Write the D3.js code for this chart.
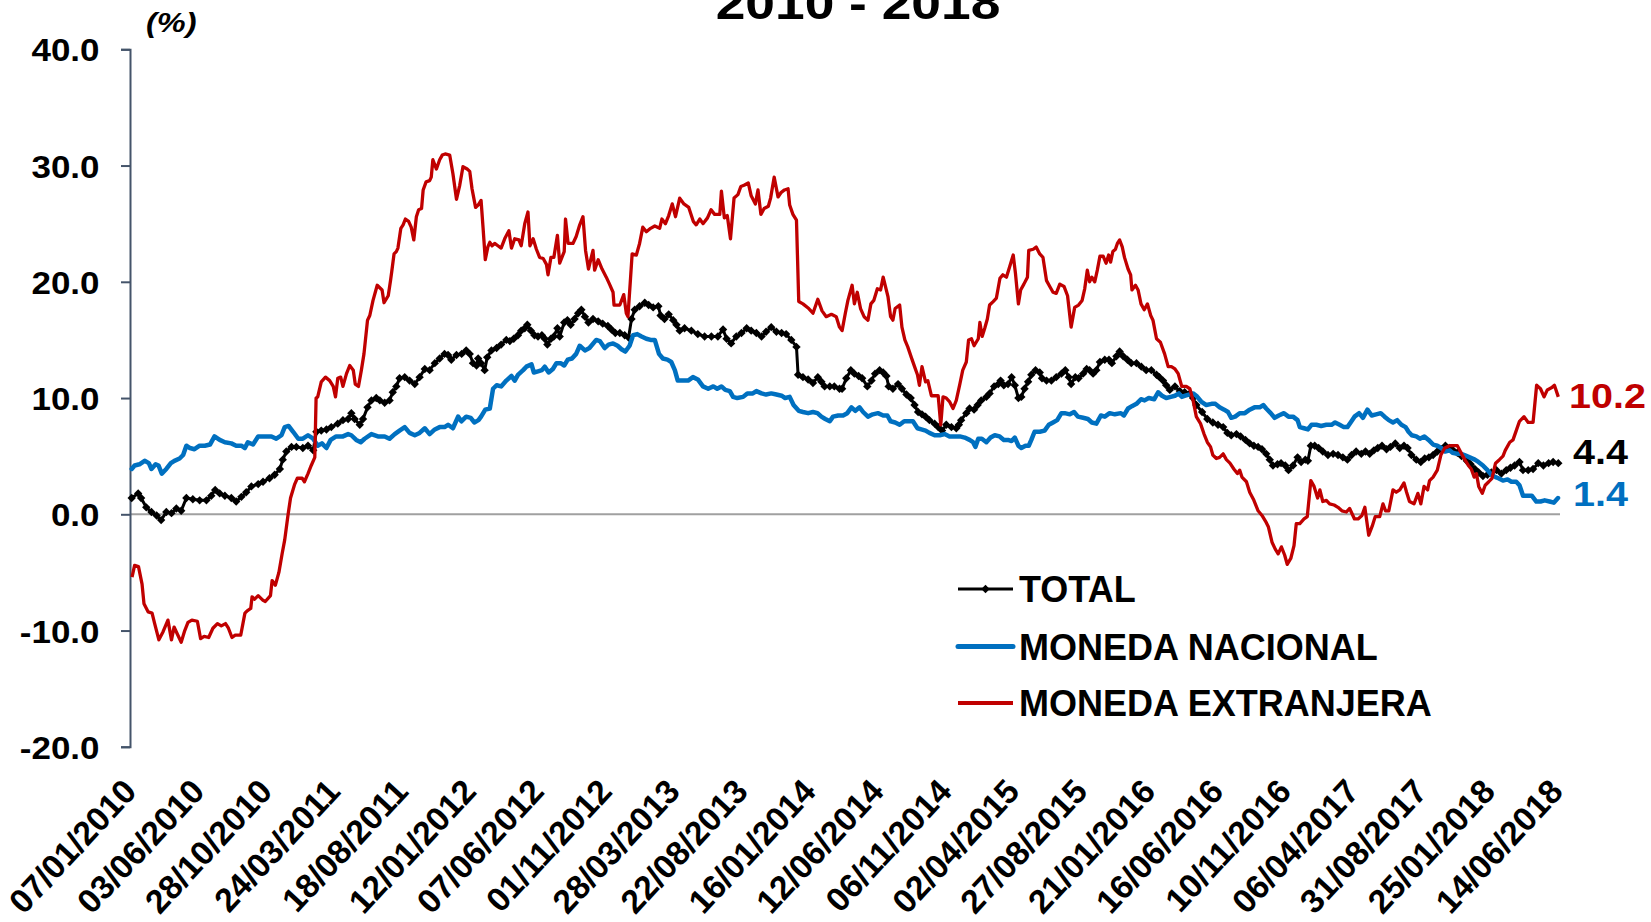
<!DOCTYPE html>
<html><head><meta charset="utf-8"><title>chart</title>
<script src="https://cdn.jsdelivr.net/npm/d3@7/dist/d3.min.js"></script>
<style>
html,body{margin:0;padding:0;background:#fff;overflow:hidden;}
svg{display:block;}
text{font-family:"Liberation Sans",Arial,Helvetica,sans-serif;font-weight:bold;}
</style></head><body>
<svg id="chart" width="1651" height="922"></svg>
<script>
const titleText = "2010 - 2018";
const unitText = "(%)";
const seriesNames = ["TOTAL", "MONEDA NACIONAL", "MONEDA EXTRANJERA"];
const seriesColors = ["#000000", "#0070C0", "#C00000"];
const lastValueLabels = ["4.4", "1.4", "10.2"];
const yTickValues = [-20, -10, 0, 10, 20, 30, 40];
const xTickIndex = [0,21,42,63,84,105,126,147,168,189,210,231,252,273,294,315,336,357,378,399,420,441];
const xTickLabels = ["07/01/2010","03/06/2010","28/10/2010","24/03/2011","18/08/2011","12/01/2012","07/06/2012","01/11/2012","28/03/2013","22/08/2013","16/01/2014","12/06/2014","06/11/2014","02/04/2015","27/08/2015","21/01/2016","16/06/2016","10/11/2016","06/04/2017","31/08/2017","25/01/2018","14/06/2018"];

// TOTAL (weekly observation index, %)
const totalWeeks = [0.0,2.0,2.9,4.5,6.1,7.7,9.1,10.7,12.3,13.8,15.3,16.9,18.9,21.0,23.1,24.6,25.8,27.2,28.8,30.8,32.3,33.9,35.4,37.0,39.1,40.6,42.6,44.2,45.8,46.7,47.8,49.4,50.9,52.9,54.5,56.1,57.1,58.6,60.2,61.7,63.7,65.3,66.9,67.9,68.9,70.5,71.5,72.9,74.1,75.6,76.7,78.2,79.7,80.7,81.8,82.8,84.4,85.9,87.5,89.0,90.6,92.1,93.7,95.2,96.7,97.8,98.8,100.4,102.0,103.4,104.5,105.5,106.6,
107.1,108.0,109.1,109.9,111.2,112.8,114.2,115.8,116.9,118.1,119.4,120.4,121.5,122.3,123.4,124.5,125.6,126.8,127.7,128.5,129.6,130.5,131.6,132.3,133.7,134.7,135.7,136.9,138.0,139.0,140.1,141.2,142.6,144.2,145.6,147.2,148.3,149.5,150.9,152.4,153.6,154.5,155.5,157.0,158.6,159.8,161.2,162.8,163.5,164.7,166.0,167.4,168.4,169.4,170.9,173.0,175.0,177.1,179.2,181.2,182.8,183.9,185.3,186.9,188.5,190.1,191.5,193.1,194.7,196.1,197.7,199.3,200.9,202.3,203.9,205.5,206.0,207.5,209.1,210.6,212.1,213.2,214.2,215.8,217.2,218.8,
219.6,220.9,222.3,223.4,224.7,225.8,227.4,228.7,229.8,231.2,232.3,233.3,234.0,235.3,236.9,238.1,239.5,240.8,242.0,243.1,244.3,245.4,246.6,248.2,249.3,250.5,251.8,253.4,254.9,255.7,256.4,258.0,259.0,260.4,261.5,262.6,264.2,265.2,266.6,267.9,268.6,269.6,270.9,272.0,273.0,274.1,275.0,276.0,277.1,278.1,279.4,280.7,281.4,282.8,284.3,285.8,287.4,288.6,289.7,290.4,291.7,292.7,294.1,295.2,296.1,297.2,298.2,299.3,300.8,302.1,303.0,304.4,305.4,306.5,307.8,309.0,310.6,312.1,313.6,315.2,316.8,317.7,318.8,319.8,320.9,322.5,324.0,325.5,327.1,328.1,329.1,
330.9,332.5,334.2,335.8,337.4,338.7,339.9,341.5,342.8,344.3,345.6,346.9,348.2,349.4,350.7,351.8,352.8,354.2,355.3,356.6,357.6,359.0,360.4,361.5,362.8,363.6,364.5,365.7,366.9,368.2,369.8,371.4,372.9,374.4,375.8,377.1,378.5,380.1,381.4,382.7,384.0,385.2,386.5,387.9,389.1,390.6,392.0,393.3,394.4,395.6,397.1,398.5,399.7,401.0,402.3,403.6,404.9,406.1,407.4,408.5,409.8,411.1,412.7,413.9,415.2,416.4,417.7,419.1,420.3,421.9,423.4,424.9,426.2,427.5,429.0,430.1,431.7,433.2,434.8,436.4,438.0,439.4,441.0];
const totalValues = [1.4,1.8,1.4,0.6,0.2,-0.1,-0.5,0.2,0.1,0.5,0.3,1.4,1.3,1.2,1.2,1.6,2.1,1.8,1.6,1.4,1.1,1.5,1.9,2.4,2.6,2.8,3.1,3.4,3.9,4.7,5.4,5.8,5.8,5.7,5.9,5.5,7.1,7.2,7.3,7.5,7.8,8.1,8.2,8.7,8.2,7.7,8.2,9.2,9.8,10.0,9.8,9.6,9.8,10.5,11.0,11.7,11.8,11.5,11.2,11.8,12.5,12.4,13.0,13.4,13.8,13.7,13.3,13.7,13.8,14.1,13.8,13.0,12.8,
13.4,13.0,12.4,13.5,14.1,14.3,14.6,15.0,14.9,15.1,15.4,15.8,16.0,16.3,15.8,15.4,15.3,15.4,15.1,14.6,15.1,15.3,16.0,15.3,16.5,16.7,16.3,16.8,17.3,17.6,17.0,16.5,16.8,16.6,16.4,16.2,15.9,15.6,15.6,15.4,15.2,16.8,17.6,17.9,18.2,18.0,17.8,17.9,17.1,16.8,17.2,16.7,16.3,15.8,16.0,15.8,15.5,15.3,15.3,15.3,15.9,15.1,14.7,15.3,15.6,16.0,15.8,15.6,15.3,15.7,16.1,15.7,15.6,15.5,15.0,14.4,12.0,11.8,11.6,11.3,11.8,11.4,11.0,11.0,11.0,10.8,
10.8,11.7,12.4,12.1,11.9,11.7,11.0,11.5,12.1,12.4,12.2,11.9,11.0,10.8,11.2,10.8,10.3,10.0,9.4,8.8,8.6,8.4,8.1,7.8,7.5,7.2,7.7,7.5,7.4,7.7,8.1,8.7,9.1,9.0,9.4,9.8,10.1,10.4,11.0,11.2,11.5,11.1,11.2,11.8,11.1,10.0,10.1,10.8,11.4,12.0,12.4,12.2,11.7,11.5,11.5,11.8,12.1,12.4,11.8,11.2,11.8,11.7,12.1,12.5,12.4,12.1,12.4,13.1,13.3,13.3,13.0,13.6,14.0,13.6,13.3,13.0,13.0,12.7,12.4,12.4,12.0,11.8,11.5,11.1,10.7,11.0,10.6,10.5,10.4,10.0,9.4,
8.8,8.2,7.9,7.7,7.5,7.0,6.8,6.9,6.7,6.4,6.1,5.9,5.8,5.6,5.2,4.7,4.2,4.3,4.4,4.2,3.8,4.2,4.9,4.5,4.7,4.6,5.9,5.9,5.7,5.4,5.1,5.2,5.1,4.9,4.7,5.1,5.4,5.2,5.4,5.2,5.5,5.7,5.9,5.6,5.8,6.1,5.7,5.9,5.7,5.1,4.7,4.5,4.8,4.9,5.1,5.4,5.6,5.9,5.7,5.5,5.3,5.0,4.6,4.3,3.9,3.6,3.3,3.4,3.6,3.8,3.5,3.8,4.0,4.2,4.5,3.8,3.8,3.9,4.4,4.2,4.4,4.5,4.4];

// MONEDA NACIONAL
const nacionalWeeks = [0.0,0.9,2.4,4.0,5.3,6.1,7.4,8.3,9.3,10.7,12.1,13.2,14.8,15.9,16.9,18.0,19.4,21.0,22.6,24.2,25.6,27.2,28.8,30.8,32.3,33.9,35.0,35.9,37.5,39.1,41.1,43.2,44.7,46.3,47.3,48.5,49.9,51.5,52.9,54.5,56.1,57.5,58.8,60.2,61.5,63.2,65.3,66.9,67.9,69.4,70.8,72.0,74.1,76.1,78.2,79.7,81.3,82.8,84.4,85.9,87.5,89.0,90.6,92.1,93.7,95.2,96.7,97.8,99.3,100.9,101.9,103.4,104.8,105.9,107.2,
108.0,109.3,110.7,111.7,112.8,114.2,115.8,117.4,118.4,119.4,121.0,122.0,123.6,124.3,125.6,126.8,127.7,128.9,130.2,131.3,132.6,133.7,134.8,136.1,137.4,138.5,140.1,141.5,143.6,144.7,146.2,147.4,148.8,150.2,151.4,152.6,153.9,155.0,156.3,157.6,159.1,160.4,161.7,163.0,164.2,165.6,166.8,167.9,168.8,170.4,172.0,173.5,175.0,176.6,178.2,179.8,181.0,182.3,183.5,184.9,185.9,187.2,189.0,190.3,192.0,193.1,194.7,196.1,197.7,199.3,200.9,202.0,203.4,204.6,206.2,207.5,209.1,210.6,212.0,213.2,214.4,215.8,216.8,218.4,
219.9,221.2,222.5,223.7,225.0,226.1,227.6,229.1,230.7,232.3,233.6,234.6,236.0,237.4,238.8,240.2,241.5,242.9,244.1,245.4,246.6,248.2,249.8,251.3,252.8,254.4,256.0,257.5,259.0,260.1,260.8,261.7,262.8,264.2,265.5,266.8,268.3,269.6,270.9,272.0,273.0,274.1,275.0,276.3,277.3,278.1,279.1,280.7,282.2,283.5,284.8,286.1,287.4,288.4,290.0,291.3,292.5,294.1,295.6,296.8,298.2,299.6,300.8,302.3,303.9,305.8,306.7,308.0,309.2,310.6,312.0,313.1,314.4,316.1,317.3,318.5,319.8,321.2,322.5,323.7,324.6,325.7,326.8,328.1,329.1,
330.6,332.2,333.8,335.0,336.3,337.7,338.9,339.9,341.1,342.5,344.1,345.6,347.1,348.7,349.8,350.7,352.1,353.3,354.6,356.2,357.6,359.0,360.4,361.1,362.4,363.6,364.7,366.2,367.7,369.3,370.9,372.0,373.4,374.7,375.8,376.8,378.0,379.4,380.6,382.0,383.3,384.7,386.1,387.3,388.6,389.9,391.2,392.5,393.8,394.7,395.7,397.1,398.2,399.6,400.9,402.3,403.6,404.8,406.0,407.4,408.3,409.8,411.0,412.0,413.6,415.2,416.3,417.7,419.1,420.3,421.6,422.5,423.9,425.3,426.5,428.0,429.0,430.1,431.7,432.8,434.2,435.5,436.8,438.3,439.6,440.9];
const nacionalValues = [3.9,4.2,4.3,4.6,4.4,3.9,4.3,4.2,3.5,3.9,4.4,4.6,4.8,5.1,5.9,5.7,5.6,5.9,5.9,6.0,6.7,6.4,6.2,6.1,5.9,5.9,5.7,6.2,6.0,6.7,6.7,6.7,6.5,6.8,7.5,7.6,7.1,6.5,6.5,6.8,6.5,5.9,6.1,5.7,6.4,6.7,6.7,6.9,6.8,6.4,6.2,6.5,6.9,6.7,6.7,6.5,6.9,7.2,7.5,7.0,6.8,7.0,7.4,6.9,7.3,7.5,7.5,7.7,7.4,8.4,8.0,8.4,8.3,7.9,8.1,
8.4,9.0,9.1,10.8,11.1,11.0,11.5,11.9,11.5,12.0,12.4,12.7,12.9,12.2,12.3,12.4,12.7,12.2,12.5,13.0,13.0,12.8,13.3,13.4,13.8,14.5,14.1,14.3,15.0,14.9,14.3,14.6,14.7,14.5,14.2,14.0,14.5,15.4,15.5,15.3,15.1,15.0,15.0,13.8,13.4,13.3,13.1,12.4,11.5,11.5,11.5,11.8,11.6,11.0,10.8,11.0,10.8,11.0,10.7,10.6,10.1,10.0,10.1,10.4,10.4,10.6,10.4,10.3,10.4,10.3,10.2,10.0,10.1,9.4,8.9,8.8,8.7,8.8,8.7,8.4,8.2,8.0,8.4,8.5,
8.5,8.7,9.2,8.9,9.2,8.8,8.4,8.6,8.7,8.5,8.5,8.0,7.9,7.7,8.0,8.0,8.0,7.4,7.3,7.2,7.0,6.8,6.8,6.9,6.7,6.7,6.7,6.6,6.4,6.2,5.8,6.5,6.5,6.2,6.6,6.8,6.7,6.4,6.4,6.3,6.6,5.9,5.7,5.9,5.9,6.4,7.1,7.1,7.2,7.7,7.9,8.1,8.7,8.7,8.6,8.8,8.4,8.3,8.2,7.9,7.8,8.5,8.4,8.7,8.6,8.7,8.5,9.1,9.3,9.5,9.9,9.8,10.0,9.9,10.5,10.2,10.0,10.1,10.2,10.4,10.1,10.2,10.3,10.4,10.2,
9.7,9.4,9.5,9.5,9.2,9.0,8.8,8.3,8.4,8.7,8.7,9.0,9.2,9.2,9.4,9.1,8.7,8.3,8.5,8.7,8.4,8.4,8.1,7.5,7.4,7.3,7.7,7.7,7.6,7.7,7.7,7.9,7.7,7.5,7.5,7.9,8.4,8.7,8.3,9.0,8.5,8.6,8.7,8.4,8.1,7.9,8.1,7.7,7.5,7.1,6.8,6.7,6.5,6.7,6.4,6.0,5.9,5.7,5.4,5.5,5.3,5.2,5.2,5.1,4.9,4.7,4.5,4.2,3.8,3.4,3.2,3.1,2.9,3.0,2.8,2.8,2.5,1.6,1.6,1.6,1.1,1.1,1.2,1.1,1.0,1.4];

// MONEDA EXTRANJERA
const extranjeraWeeks = [0.1,0.9,2.1,3.2,3.8,5.1,6.3,7.1,8.4,9.7,11.2,12.3,13.1,14.1,15.3,16.4,17.4,18.6,20.3,21.3,22.4,23.8,25.1,26.5,27.7,29.0,29.9,31.0,32.0,33.7,35.0,35.7,36.8,37.2,38.0,39.1,40.6,41.3,42.9,43.4,44.4,45.5,46.5,47.3,48.3,49.1,50.4,51.2,52.7,53.4,54.5,55.5,56.6,57.0,57.5,58.6,59.9,61.2,62.3,63.0,63.7,64.6,65.3,66.4,67.4,68.5,69.1,70.1,71.0,71.8,72.9,73.6,74.6,75.9,77.4,78.0,79.3,80.0,80.4,81.1,81.8,82.3,83.2,83.9,84.6,85.6,86.4,87.2,88.0,88.7,89.6,90.1,91.0,92.1,92.6,93.1,94.2,95.2,96.0,96.9,98.3,99.3,100.4,101.4,102.4,103.7,104.5,105.2,106.3,
107.1,108.0,108.6,109.3,110.1,110.7,111.4,112.2,113.2,114.2,115.3,116.6,117.4,118.4,119.7,120.4,121.5,122.5,123.1,124.1,125.1,126.1,127.2,128.2,128.7,129.6,130.5,131.6,132.3,133.7,134.1,134.9,136.4,137.4,138.5,139.5,140.3,141.2,142.6,143.1,144.2,145.4,146.7,147.7,148.8,149.1,150.9,152.1,152.9,153.4,154.2,154.7,156.0,157.0,158.0,159.1,160.4,161.7,163.2,163.9,165.0,166.0,167.1,168.1,169.4,170.7,172.2,173.6,174.5,175.6,176.6,178.0,179.1,180.2,181.8,182.3,183.2,184.1,185.1,186.2,187.4,188.3,189.3,190.6,191.5,192.8,193.6,194.5,195.5,196.8,197.5,198.6,199.8,200.8,201.8,202.9,203.4,204.4,205.5,206.2,207.5,209.3,210.6,212.1,213.4,214.7,216.3,217.8,218.8,
219.6,220.6,221.4,222.7,223.4,224.3,225.3,226.4,227.6,228.5,229.4,230.5,231.5,232.3,233.0,233.8,234.6,235.3,236.0,237.4,238.1,239.0,239.9,241.0,242.0,242.9,243.5,244.3,245.4,246.1,247.2,248.2,249.3,250.1,250.8,251.8,252.8,253.9,254.9,256.0,256.9,258.0,258.7,259.6,260.4,261.7,262.2,262.9,263.7,264.5,265.2,266.3,267.3,268.4,269.3,270.4,271.4,272.5,273.2,274.1,274.8,275.8,276.9,277.3,278.7,279.6,280.7,281.7,282.8,283.8,284.8,285.8,286.9,288.2,289.3,290.4,291.5,292.7,293.8,294.6,295.4,296.1,296.8,297.7,298.5,299.3,300.3,301.2,302.0,302.6,303.3,304.1,304.7,305.4,306.2,306.9,308.0,308.8,309.2,310.3,311.1,312.0,313.0,314.0,315.0,315.7,316.8,318.0,319.3,320.4,321.4,322.5,323.5,324.6,326.0,327.1,328.1,329.1,
330.4,331.5,332.5,333.5,334.2,335.3,336.3,337.4,338.4,339.5,340.7,341.8,342.5,343.2,344.6,345.6,346.9,348.2,349.4,350.7,351.4,352.5,353.5,354.4,355.4,356.4,357.2,358.3,359.3,360.0,361.1,362.4,363.4,364.5,365.5,366.6,367.3,368.2,369.3,370.3,371.7,372.9,374.1,375.5,376.5,378.0,379.1,380.3,381.2,382.4,383.5,384.4,385.8,386.8,387.6,388.6,389.9,390.9,392.0,393.3,394.1,395.0,396.4,397.6,398.5,399.5,400.6,401.2,402.3,403.6,404.7,405.9,407.4,408.5,409.8,411.1,412.1,413.2,414.1,415.0,415.7,416.4,417.5,418.4,419.5,420.5,421.6,422.8,423.9,424.6,426.0,427.0,428.0,429.0,430.4,431.7,433.2,434.3,435.5,436.6,437.6,439.0,439.8,441.0];
const extranjeraValues = [-5.4,-4.4,-4.5,-6.0,-7.7,-8.4,-8.5,-9.4,-10.8,-10.1,-9.1,-10.8,-9.7,-10.3,-11.0,-10.0,-9.3,-9.1,-9.2,-10.7,-10.5,-10.6,-9.8,-9.4,-9.6,-9.4,-9.8,-10.6,-10.4,-10.4,-8.5,-8.3,-8.1,-7.1,-7.3,-7.0,-7.4,-7.5,-7.0,-5.7,-6.1,-5.0,-3.4,-2.2,-0.1,1.4,2.6,3.1,3.1,2.8,3.5,4.2,4.9,10.0,10.1,11.4,11.8,11.5,11.0,10.1,11.7,11.8,11.0,12.1,12.8,12.4,11.2,11.0,12.4,13.8,16.7,17.1,18.4,19.7,19.3,18.2,18.8,20.1,20.9,22.4,22.6,22.9,24.6,24.9,25.4,25.2,24.7,23.6,25.6,26.2,26.3,27.9,28.6,28.7,29.0,30.5,29.7,30.5,30.9,31.0,30.9,29.3,27.1,28.3,29.9,29.7,29.5,28.0,26.4,
26.6,27.0,24.7,21.9,23.0,23.4,23.1,23.3,23.1,22.9,23.7,24.4,22.9,23.7,23.6,23.1,25.0,26.0,23.1,23.7,22.8,22.1,22.0,21.5,20.6,22.1,22.1,24.0,21.6,22.6,25.4,23.3,23.3,23.9,24.9,25.6,22.7,21.1,22.7,21.0,21.9,21.1,20.4,19.8,19.1,18.0,18.0,18.9,17.3,17.0,20.3,22.4,22.3,23.3,24.7,24.3,24.6,24.8,24.6,25.4,25.0,25.7,26.7,25.6,27.2,26.7,26.4,25.2,24.9,25.4,25.0,25.5,26.2,25.8,25.8,27.8,25.5,25.7,23.7,27.2,27.5,28.2,28.3,28.5,27.4,26.7,27.9,25.8,26.3,26.5,27.2,29.0,27.3,27.7,27.9,28.0,26.6,25.8,25.3,18.3,18.1,17.7,17.3,18.5,17.5,17.0,17.2,17.0,16.1,
15.8,17.3,18.4,19.7,18.1,19.1,17.7,17.0,16.7,18.1,18.4,19.4,19.3,20.4,19.6,18.7,17.0,16.7,17.7,18.0,16.1,15.0,14.4,13.5,12.7,12.0,11.1,12.7,11.4,11.5,10.2,10.2,10.2,7.7,10.1,10.0,9.7,9.1,9.8,11.2,12.4,13.1,15.0,15.1,14.5,15.1,16.5,15.3,16.0,16.8,18.0,18.3,18.6,20.3,20.6,20.4,21.3,22.3,20.7,18.1,19.3,19.8,20.4,22.7,22.8,23.0,22.4,22.1,20.1,19.6,19.1,19.0,19.8,19.6,18.8,16.1,17.8,18.0,18.4,19.4,21.0,20.0,20.4,20.0,21.0,22.2,22.2,21.6,22.3,21.7,22.6,22.8,23.3,23.6,23.0,22.1,21.1,20.6,19.3,19.7,19.3,18.1,17.6,18.1,17.1,16.7,15.1,14.8,13.8,12.7,12.7,12.5,12.1,11.0,11.0,10.8,9.8,8.4,
7.8,6.9,6.2,5.8,5.1,4.8,4.9,5.2,4.7,4.4,3.9,3.5,3.8,3.2,2.8,1.9,1.2,0.3,-0.1,-0.7,-1.1,-2.4,-3.0,-3.4,-2.8,-3.5,-4.3,-3.8,-2.7,-0.8,-0.8,-0.4,-0.2,2.9,2.4,1.4,2.1,1.1,1.2,0.9,0.8,0.6,0.3,0.2,0.5,-0.4,-0.4,-0.1,0.6,-1.8,-1.0,-0.2,-0.2,0.9,0.3,0.3,2.1,1.9,2.1,2.7,1.9,1.1,0.9,1.8,0.9,2.4,2.1,2.9,3.2,3.8,5.1,5.7,5.9,5.9,5.9,5.2,4.7,4.2,3.9,3.2,3.5,2.4,1.8,2.5,2.8,3.1,4.4,4.7,5.0,5.5,6.2,6.4,7.2,8.0,8.4,7.9,7.9,11.1,10.8,10.1,10.7,10.9,11.1,10.1];

// ---------- drawing ----------
const svg = d3.select("#chart");
const SX = 1.16; // horizontal stretch of the original picture's texts
const x = d3.scaleLinear().domain([0, 441]).range([131.7, 1558.3]);
const y = d3.scaleLinear().domain([-20, 40]).range([746.8, 49.3]);

// title (only lower part visible)
svg.append("text").attr("transform", `translate(858,19) scale(${SX},1)`)
  .attr("text-anchor", "middle").attr("font-size", 46).text(titleText);

// unit
svg.append("text").attr("transform", `translate(146,32) scale(${SX},1)`)
  .attr("font-size", 28).attr("font-style", "italic").text(unitText);

// zero line (category axis)
svg.append("line").attr("x1", 130).attr("x2", 1560).attr("y1", y(0)).attr("y2", y(0))
  .attr("stroke", "#a0a0a0").attr("stroke-width", 2);

// y axis
const gy = svg.append("g").attr("transform", "translate(130,0)")
  .call(d3.axisLeft(y).tickValues(yTickValues).tickSize(9).tickSizeOuter(9)
    .tickFormat(d => d.toFixed(1)));
gy.select(".domain").attr("stroke", "#44546A").attr("stroke-width", 2);
gy.selectAll(".tick line").attr("stroke", "#44546A").attr("stroke-width", 2);
gy.selectAll(".tick text").attr("x", null).attr("dy", null)
  .attr("transform", `translate(-30.5,11.5) scale(1.11,1)`)
  .attr("font-size", 31.5).attr("fill", "#000").attr("text-anchor", "end");

// x labels
const gx = svg.append("g").attr("transform", `translate(0,${y(-20)})`)
  .call(d3.axisBottom(x).tickValues(xTickIndex).tickSize(0)
    .tickFormat((d, i) => xTickLabels[i]));
gx.select(".domain").remove();
gx.selectAll(".tick text").attr("y", null).attr("dy", null)
  .attr("text-anchor", "end")
  .attr("transform", `translate(6,46) rotate(-47)`)
  .attr("font-size", 33.5).attr("fill", "#000");

// series
const line = d3.line().x(d => x(d[0])).y(d => y(d[1]));
const totalData = d3.zip(totalWeeks, totalValues);
const nacionalData = d3.zip(nacionalWeeks, nacionalValues);
const extranjeraData = d3.zip(extranjeraWeeks, extranjeraValues);
const diamond = "M0,-4.2L4.2,0L0,4.2L-4.2,0Z";

svg.append("path").datum(totalData).attr("d", line).attr("fill", "none")
  .attr("stroke", seriesColors[0]).attr("stroke-width", 3).attr("stroke-linejoin", "round");
svg.append("g").selectAll("path").data(totalData).join("path")
  .attr("d", diamond).attr("transform", d => `translate(${x(d[0])},${y(d[1])})`)
  .attr("fill", seriesColors[0]);
svg.append("path").datum(nacionalData).attr("d", line).attr("fill", "none")
  .attr("stroke", seriesColors[1]).attr("stroke-width", 4.5).attr("stroke-linejoin", "round").attr("stroke-linecap", "round");
svg.append("path").datum(extranjeraData).attr("d", line).attr("fill", "none")
  .attr("stroke", seriesColors[2]).attr("stroke-width", 3.3).attr("stroke-linejoin", "round");

// end labels
const endLabelPos = [[1573, 464], [1573, 506], [1569, 408]];
lastValueLabels.forEach((t, i) => {
  svg.append("text").attr("transform", `translate(${endLabelPos[i][0]},${endLabelPos[i][1]}) scale(1.13,1)`)
    .attr("font-size", 35).attr("fill", seriesColors[i]).text(t);
});

// legend
const legendY = [589, 646.5, 703];
const legendW = [3, 5, 4];
seriesNames.forEach((n, i) => {
  const g = svg.append("g");
  g.append("line").attr("x1", 958).attr("x2", 1013).attr("y1", legendY[i]).attr("y2", legendY[i])
    .attr("stroke", seriesColors[i]).attr("stroke-width", legendW[i])
    .attr("stroke-linecap", i === 1 ? "round" : "butt");
  if (i === 0) g.append("path").attr("d", diamond).attr("transform", `translate(985.5,${legendY[i]})`).attr("fill", "#000");
  g.append("text").attr("x", 1019).attr("y", legendY[i] + 13).attr("font-size", 36).attr("fill", "#000").text(n);
});
</script>
</body></html>
